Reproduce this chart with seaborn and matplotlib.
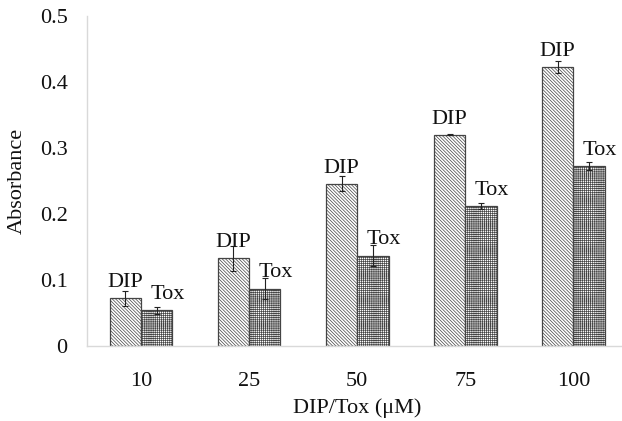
import matplotlib
matplotlib.use("Agg")
import matplotlib.pyplot as plt
import seaborn as sns
import pandas as pd
import numpy as np

categories = ["10", "25", "50", "75", "100"]
dip_values = [0.072, 0.133, 0.246, 0.320, 0.423]
dip_errors = [0.011, 0.019, 0.011, 0.001, 0.009]
tox_values = [0.054, 0.087, 0.137, 0.212, 0.273]
tox_errors = [0.005, 0.016, 0.016, 0.004, 0.006]
series = ["DIP", "Tox"]
y_ticks = [0, 0.1, 0.2, 0.3, 0.4, 0.5]
y_tick_labels = ["0", "0.1", "0.2", "0.3", "0.4", "0.5"]

sns.set_theme(style="white")
plt.rcParams['font.family'] = ['Liberation Serif', 'DejaVu Serif']
plt.rcParams['hatch.linewidth'] = 0.5
plt.rcParams['hatch.color'] = '#555555'

df = pd.DataFrame({
    "conc": categories * 2,
    "series": [series[0]] * 5 + [series[1]] * 5,
    "value": dip_values + tox_values,
})

fig = plt.figure(figsize=(6.22, 4.21), dpi=100)
ax = fig.add_axes([87 / 622, 1 - 346 / 421, (622 - 87) / 622 * 1.01, (346 - 16) / 421])

sns.barplot(data=df, x="conc", y="value", hue="series", order=categories,
            hue_order=series, palette=["white", "white"], width=0.58,
            edgecolor="#444444", linewidth=0.9, errorbar=None, legend=False, ax=ax)

hatches = {"DIP": "\\" * 10, "Tox": "+" * 8}
errs = {"DIP": dip_errors, "Tox": tox_errors}
vals = {"DIP": dip_values, "Tox": tox_values}
for container, name in zip(ax.containers, series):
    for i, bar in enumerate(container):
        bar.set_hatch(hatches[name])
        cx = bar.get_x() + bar.get_width() / 2
        ax.errorbar(cx, vals[name][i], yerr=errs[name][i], fmt="none",
                    ecolor="#222222", elinewidth=0.8, capsize=2.5, capthick=0.8)
        dx = 0 if name == "DIP" else 8
        ax.annotate(name, (cx, vals[name][i]),
                    xytext=(dx, 8), textcoords="offset points",
                    ha="center", va="baseline", fontsize=16, color="#111111")

ax.set_xlim(-0.5, 4.5)
ax.set_ylim(0, 0.5)
ax.set_yticks(y_ticks)
ax.set_yticklabels(y_tick_labels)
ax.set_xticks(range(len(categories)))
ax.set_xticklabels(categories)
ax.set_xticks(np.arange(-0.5, 5.0, 1.0), minor=True)
ax.tick_params(axis="x", which="major", length=0, pad=19, labelsize=16, colors="#111111")
ax.tick_params(axis="x", which="minor", length=6, width=1, color="#d9d9d9", direction="out")
ax.tick_params(axis="y", length=6, width=1, color="#d9d9d9", direction="out", labelsize=16,
               labelcolor="#111111", pad=8)
for s in ["top", "right"]:
    ax.spines[s].set_visible(False)
for s in ["left", "bottom"]:
    ax.spines[s].set_color("#d9d9d9")
    ax.spines[s].set_linewidth(1)
ax.set_xlabel("DIP/Tox (μM)", fontsize=16, color="#111111", labelpad=5)
ax.set_ylabel("Absorbance", fontsize=16, color="#111111", labelpad=9)

fig.savefig("out.png", dpi=100)
